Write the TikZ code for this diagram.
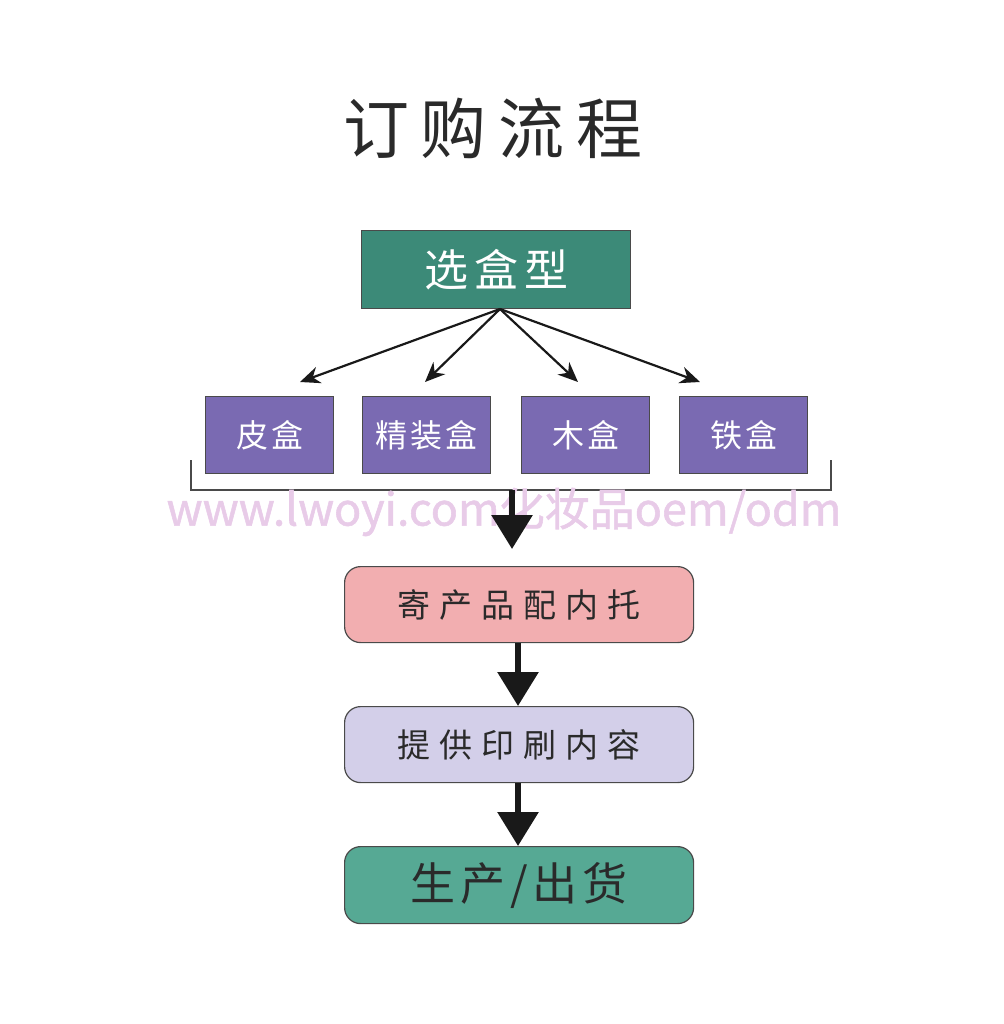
\documentclass[tikz,border=0pt]{standalone}
\usepackage{fontspec}
\newfontfamily\cjk{Noto Sans CJK SC}
\newfontfamily\wmfont[FakeBold=1.2]{Noto Sans CJK SC}
\usetikzlibrary{arrows.meta}
\definecolor{tealdark}{HTML}{3C8A78}
\definecolor{boxpurple}{HTML}{7A6AB2}
\definecolor{boxpink}{HTML}{F2AEB0}
\definecolor{boxlav}{HTML}{D3CFE9}
\definecolor{tealmid}{HTML}{56A994}
\definecolor{wmark}{HTML}{E8CBE8}
\definecolor{edgegray}{HTML}{4A4A4A}
\definecolor{txtdark}{HTML}{2A2A2A}
\tikzset{
  sqbox/.style={draw=edgegray, line width=1.2pt, inner sep=0pt, anchor=north west},
  rbox/.style={draw=edgegray, line width=1.2pt, rounded corners=16pt, inner sep=0pt, anchor=north west},
  thin arrow/.style={line width=2.2pt, -{Stealth[length=20pt,width=17pt]}, black!90},
  fat arrow/.style={line width=6pt, -{Triangle[length=34pt,width=40pt]}, black!90},
}
\newcommand{\chsp}{\hspace{9pt}}
\begin{document}
\begin{tikzpicture}[x=1pt,y=-1pt]
\useasboundingbox (0,0) rectangle (1003,1024);
% title
\node[text=txtdark, font=\cjk\fontsize{66}{66}\selectfont] (title) at (493,128) {订\hspace{12pt}购\hspace{12pt}流\hspace{12pt}程};
% top box
\node[sqbox, fill=tealdark, minimum width=269pt, minimum height=78pt, text=white, font=\cjk\fontsize{44}{44}\selectfont] (top) at (361,230) {选\hspace{6pt}盒\hspace{6pt}型};
% purple boxes
\foreach \n/\x/\t in {b1/205/{皮\hspace{3pt}盒}, b2/362/{精\hspace{3pt}装\hspace{3pt}盒}, b3/521/{木\hspace{3pt}盒}, b4/679/{铁\hspace{3pt}盒}}
  \node[sqbox, fill=boxpurple, minimum width=128pt, minimum height=77pt, text=white, font=\cjk\fontsize{32}{32}\selectfont] (\n) at (\x,396) {\t};
% arrow tips
\coordinate (src) at (500,309);
\coordinate (t1) at (300,382);
\coordinate (t2) at (425,382);
\coordinate (t3) at (578,382);
\coordinate (t4) at (700,382);
\foreach \t in {t1,t2,t3,t4} \draw[thin arrow] (src) -- (\t);
% bracket
\coordinate (bl) at (191,460);
\coordinate (br) at (831,460);
\coordinate (bl2) at (191,490);
\coordinate (br2) at (831,490);
\draw[edgegray, line width=1.6pt] (bl) -- (bl2) -- (br2) -- (br);
% watermark
\node[text=wmark, font=\wmfont\fontsize{45}{45}\selectfont, inner sep=0pt] (wm) at (504,512) {www.lwoyi.com化妆品oem/odm};
% lower boxes
\node[rbox, fill=boxpink, minimum width=349pt, minimum height=76pt, text=txtdark, font=\cjk\fontsize{33}{33}\selectfont] (r1) at (344,566) {寄\chsp 产\chsp 品\chsp 配\chsp 内\chsp 托};
\node[rbox, fill=boxlav, minimum width=349pt, minimum height=76pt, text=txtdark, font=\cjk\fontsize{33}{33}\selectfont] (r2) at (344,706) {提\chsp 供\chsp 印\chsp 刷\chsp 内\chsp 容};
\node[rbox, fill=tealmid, minimum width=349pt, minimum height=77pt, text=txtdark, font=\cjk\fontsize{45}{45}\selectfont] (r3) at (344,846) {生\hspace{5pt}产\hspace{5pt}/\hspace{5pt}出\hspace{5pt}货};
% fat arrows
\coordinate (bm) at (512,490);
\coordinate (bt) at (512,549);
\draw[fat arrow] (bm) -- (bt);
\draw[fat arrow] (r1.south -| 518,0) -- (r2.north -| 518,0);
\draw[fat arrow] (r2.south -| 518,0) -- (r3.north -| 518,0);
\end{tikzpicture}
\end{document}
